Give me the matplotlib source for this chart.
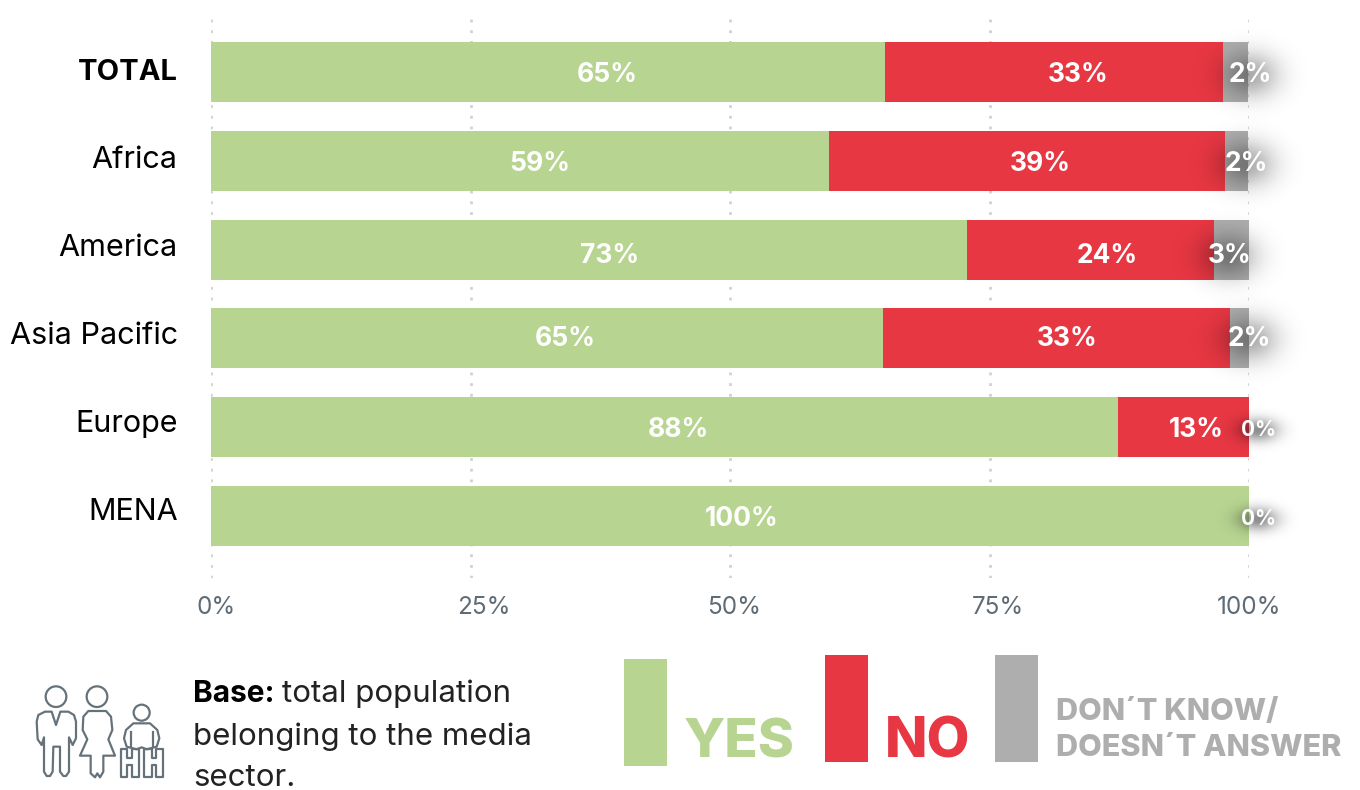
import numpy as np
import matplotlib
matplotlib.use("Agg")
import matplotlib.pyplot as plt
from matplotlib.patches import Circle, Polygon
from matplotlib.transforms import ScaledTranslation

regions = ["TOTAL", "Africa", "America", "Asia Pacific", "Europe", "MENA"]
yes_vals = [64.9, 59.5, 72.8, 64.7, 87.4, 100.0]
no_vals = [32.6, 38.2, 23.8, 33.5, 12.6, 0.0]
dk_vals = [2.4, 2.2, 3.4, 1.8, 0.0, 0.0]
yes_labels = ["65%", "59%", "73%", "65%", "88%", "100%"]
no_labels = ["33%", "39%", "24%", "33%", "13%", ""]
dk_labels = ["2%", "2%", "3%", "2%", "0%", "0%"]
x_ticks = [0, 25, 50, 75, 100]
x_ticklabels = ["0%", "25%", "50%", "75%", "100%"]

GREEN = "#b7d491"
RED = "#e73743"
GREY = "#aeaeae"
ICON = "#66727a"
FONT = "Inter"

plt.rcParams["font.family"] = [FONT, "DejaVu Sans"]

fig = plt.figure(figsize=(13.6, 7.9), dpi=100)
ax = fig.add_axes([211 / 1360, 1 - 578 / 790, 1038 / 1360, 566 / 790])
for s in ax.spines.values():
    s.set_visible(False)

ypos = np.arange(len(regions))
yes_arr, no_arr, dk_arr = map(np.array, (yes_vals, no_vals, dk_vals))
ax.barh(ypos, yes_arr, height=0.676, color=GREEN, zorder=3)
ax.barh(ypos, no_arr, left=yes_arr, height=0.676, color=RED, zorder=3)
ax.barh(ypos, dk_arr, left=yes_arr + no_arr, height=0.676, color=GREY, zorder=3)

for t in x_ticks:
    ax.axvline(t, color="#cfd1d3", lw=2, dashes=(1, 2.85), zorder=1)

# ticks, nudged by hand to sit where the original has them
ax.set_xticks(x_ticks, x_ticklabels)
ax.tick_params(axis="x", length=0, pad=13, labelsize=17.5, labelcolor="#5f6b75")
for lab, dx in zip(ax.get_xticklabels(), [5, 13, 4, 8, 0]):
    lab.set_transform(lab.get_transform() + ScaledTranslation(dx / 100, 0, fig.dpi_scale_trans))

ax.set_yticks(ypos, regions)
ax.tick_params(axis="y", length=0, pad=24, labelsize=22, labelcolor="black")
for i, lab in enumerate(ax.get_yticklabels()):
    dy = [3, 4, 5, 5, 6, 7][i]
    lab.set_transform(lab.get_transform() + ScaledTranslation(0, dy / 100, fig.dpi_scale_trans))
ax.get_yticklabels()[0].set_fontweight("bold")
ax.get_yticklabels()[0].set_fontsize(21)

# value labels are not centred in the segments in the original
yes_x = [38.2, 31.7, 38.4, 34.1, 45.0, 51.1]
no_x = [83.5, 79.9, 86.3, 82.5, 94.9, 0]
dk_x = [100.1, 99.7, 98.1, 100.0, 100.9, 100.9]
label_dy = [3, 3, 6, 1, 3, 3]


def soft_shadow(cx, cy, sx, sy, peak):
    # blurred black blob behind the small labels, sizes in pixels
    gx, gy = np.meshgrid(np.linspace(-3, 3, 121), np.linspace(-3, 3, 121))
    rgba = np.zeros((121, 121, 4))
    rgba[..., 3] = peak * np.exp(-(gx ** 2 + gy ** 2) / 2)
    ex, ey = 3 * sx / 10.38, 3 * sy / 88.8
    ax.imshow(rgba, extent=(cx - ex, cx + ex, cy + ey, cy - ey), aspect="auto",
              zorder=4, clip_on=False, interpolation="bilinear")


for i in range(len(regions)):
    y = i + label_dy[i] / 88.8
    ax.text(yes_x[i], y, yes_labels[i], color="white", fontsize=19, fontweight="bold",
            ha="center", va="center", zorder=5)
    if no_labels[i]:
        ax.text(no_x[i], y, no_labels[i], color="white", fontsize=19, fontweight="bold",
                ha="center", va="center", zorder=5)
    small = dk_labels[i] == "0%"
    if small:
        soft_shadow(dk_x[i], y, 14, 8, 0.45)
    else:
        soft_shadow(dk_x[i], y, 20, 16, 0.33)
    ax.text(dk_x[i], y, dk_labels[i], color="white", fontsize=15 if small else 19,
            fontweight="bold", ha="center", va="center", zorder=6)

ax.set_xlim(0, 100)
ax.set_ylim(5.698, -0.676)

# overlay in pixel coords for the footer
ov = fig.add_axes([0, 0, 1, 1], facecolor="none")
ov.set_xlim(0, 1360)
ov.set_ylim(790, 0)
ov.axis("off")

ov.bar([645.5, 846.5, 1016.5], [107, 107, 107], width=43, bottom=[659, 655, 655],
       color=[GREEN, RED, GREY])
ov.text(684, 758, "YES", color=GREEN, fontsize=39.5, fontweight="heavy", va="baseline")
ov.text(885, 758, "NO", color=RED, fontsize=40, fontweight="heavy", va="baseline")
ov.text(1056, 720, "DON´T KNOW/", color=GREY, fontsize=22, fontweight="heavy", va="baseline")
ov.text(1056, 756, "DOESN´T ANSWER", color=GREY, fontsize=22, fontweight="heavy", va="baseline")

ov.text(193, 702, "Base:", color="black", fontsize=21.5, fontweight="bold", va="baseline")
ov.text(282, 702, "total population", color="#222222", fontsize=22.5, va="baseline")
ov.text(193, 745, "belonging to the media", color="#222222", fontsize=22.5, va="baseline")
ov.text(193, 786, "sector.", color="#222222", fontsize=22.5, va="baseline")


def zoomed(pts):
    return [(px / 3, 650 + py / 3) for px, py in pts]


man = [(135, 185), (155, 185), (168, 225), (181, 185), (205, 185), (222, 195), (228, 215),
       (228, 265), (218, 285), (207, 262), (207, 365), (198, 378), (190, 378), (180, 365),
       (180, 290), (160, 290), (158, 365), (150, 378), (140, 378), (132, 365), (132, 262),
       (125, 285), (113, 268), (110, 215), (115, 195)]
woman = [(265, 183), (318, 183), (333, 200), (337, 240), (325, 268), (345, 317), (310, 317),
         (310, 365), (300, 382), (292, 370), (285, 382), (272, 370), (272, 317), (240, 317),
         (262, 268), (248, 240), (250, 200)]
child = [(400, 220), (450, 220), (472, 240), (478, 265), (470, 290), (440, 298), (425, 292),
         (410, 298), (380, 290), (372, 265), (378, 240)]
leg_l = [(362, 298), (382, 298), (382, 325), (395, 325), (395, 298), (418, 298), (418, 380),
         (395, 380), (395, 345), (382, 345), (382, 380), (362, 380)]
leg_r = [(432, 298), (455, 298), (455, 325), (468, 325), (468, 298), (488, 298), (488, 380),
         (468, 380), (468, 345), (455, 345), (455, 380), (432, 380)]
for shape in (man, woman, child, leg_l, leg_r):
    ov.add_patch(Polygon(zoomed(shape), closed=True, fill=False, ec=ICON, lw=1.6, joinstyle="round"))
for cx, cy, r in [(168, 140, 31), (291, 140, 31), (425, 188, 24)]:
    ov.add_patch(Circle((cx / 3, 650 + cy / 3), r / 3, fill=False, ec=ICON, lw=1.6))
for arm_x in (392, 458):
    ov.plot([arm_x / 3, arm_x / 3], [650 + 245 / 3, 650 + 290 / 3], color=ICON, lw=1.6)

fig.savefig("out.png", dpi=100)
